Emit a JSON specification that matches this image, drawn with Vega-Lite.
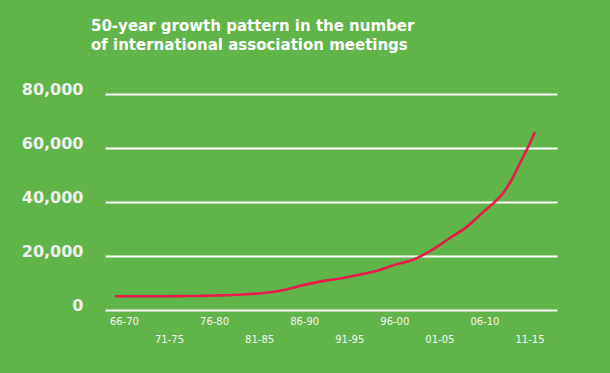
{
  "$schema": "https://vega.github.io/schema/vega-lite/v6.json",
  "width": 452,
  "height": 216,
  "autosize": {"type": "none"},
  "padding": {"left": 105, "top": 94, "right": 53, "bottom": 63},
  "background": "#5fb548",
  "title": {
    "text": ["50-year growth pattern in the number", "of international association meetings"],
    "anchor": "start",
    "frame": "group",
    "dx": -14,
    "offset": 28,
    "font": "DejaVu Sans",
    "fontSize": 15,
    "fontWeight": "bold",
    "color": "#ffffff",
    "lineHeight": 19
  },
  "data": {
    "values": [
      {"year": 1967, "meetings": 5100},
      {"year": 1968, "meetings": 5100},
      {"year": 1970, "meetings": 5100},
      {"year": 1972, "meetings": 5100},
      {"year": 1974, "meetings": 5150},
      {"year": 1976, "meetings": 5200},
      {"year": 1978, "meetings": 5370},
      {"year": 1980, "meetings": 5560},
      {"year": 1982, "meetings": 5900},
      {"year": 1984, "meetings": 6480},
      {"year": 1986, "meetings": 7600},
      {"year": 1988, "meetings": 9300},
      {"year": 1990, "meetings": 10700},
      {"year": 1992, "meetings": 11700},
      {"year": 1994, "meetings": 13000},
      {"year": 1996, "meetings": 14400},
      {"year": 1998, "meetings": 16700},
      {"year": 2000, "meetings": 18500},
      {"year": 2002, "meetings": 21900},
      {"year": 2004, "meetings": 26300},
      {"year": 2006, "meetings": 30700},
      {"year": 2008, "meetings": 36700},
      {"year": 2009, "meetings": 39600},
      {"year": 2010, "meetings": 43000},
      {"year": 2011, "meetings": 48100},
      {"year": 2012, "meetings": 54800},
      {"year": 2013, "meetings": 61500},
      {"year": 2013.6, "meetings": 65900}
    ]
  },
  "mark": {"type": "line", "color": "#ea1a48", "strokeWidth": 2.6, "interpolate": "monotone"},
  "encoding": {
    "x": {
      "field": "year",
      "type": "quantitative",
      "scale": {"domain": [1965.9, 2016.05], "nice": false, "zero": false},
      "axis": {
        "title": null,
        "values": [1968, 1973, 1978, 1983, 1988, 1993, 1998, 2003, 2008, 2013],
        "labelExpr": "(round((datum.value-1968)/5)%2==1) ? ['', slice('0'+((datum.value-2)%100),-2)+'-'+slice('0'+((datum.value+2)%100),-2)] : slice('0'+((datum.value-2)%100),-2)+'-'+slice('0'+((datum.value+2)%100),-2)",
        "grid": false,
        "domain": false,
        "ticks": false,
        "labelPadding": 6,
        "labelFont": "DejaVu Sans",
        "labelFontSize": 10,
        "labelColor": "#f7f7f7",
        "labelLineHeight": 18,
        "labelOverlap": false,
        "labelBound": false,
        "labelFlush": false
      }
    },
    "y": {
      "field": "meetings",
      "type": "quantitative",
      "scale": {"domain": [0, 80000], "nice": false},
      "axis": {
        "title": null,
        "values": [0, 20000, 40000, 60000, 80000],
        "format": ",d",
        "grid": true,
        "gridColor": "#ffffff",
        "gridWidth": 2,
        "gridOpacity": 1,
        "domain": false,
        "ticks": false,
        "labelPadding": 22,
        "labelFont": "DejaVu Sans",
        "labelFontSize": 16,
        "labelFontWeight": "bold",
        "labelColor": "#f0f0f0",
        "labelBaseline": "alphabetic"
      }
    }
  },
  "config": {"view": {"stroke": null}}
}
